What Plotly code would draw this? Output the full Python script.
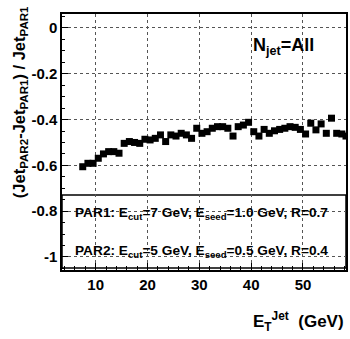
import plotly.graph_objects as go

et_jet = [7.5, 8.5, 9.5, 10.5, 11.5, 12.5, 13.5, 14.5, 15.5, 16.5, 17.5, 18.5, 19.5, 20.5,
          21.5, 22.5, 23.5, 24.5, 25.5, 26.5, 27.5, 28.5, 29.5, 30.5, 31.5, 32.5, 33.5,
          34.5, 35.5, 36.5, 37.5, 38.5, 39.5, 40.5, 41.5, 42.5, 43.5, 44.5, 45.5, 46.5,
          47.5, 48.5, 49.5, 50.5, 51.5, 52.5, 53.5, 54.5, 55.5, 56.5, 57.5, 58.3]
rel_diff = [-0.606, -0.591, -0.591, -0.569, -0.550, -0.540, -0.540, -0.547, -0.504, -0.496,
            -0.500, -0.504, -0.486, -0.489, -0.482, -0.467, -0.496, -0.467, -0.472, -0.460,
            -0.467, -0.482, -0.438, -0.460, -0.453, -0.438, -0.431, -0.431, -0.438, -0.472,
            -0.431, -0.424, -0.412, -0.453, -0.472, -0.443, -0.460, -0.449, -0.443, -0.438,
            -0.431, -0.434, -0.443, -0.463, -0.416, -0.445, -0.419, -0.460, -0.394, -0.460,
            -0.463, -0.472]

y_tickvals = [0, -0.2, -0.4, -0.6, -0.8, -1]
y_ticktext = ["0", "-0.2", "-0.4", "-0.6", "-0.8", "-1"]
x_tickvals = [10, 20, 30, 40, 50]
x_ticktext = ["10", "20", "30", "40", "50"]

FONT = "Liberation Sans"

fig = go.Figure()
fig.add_trace(go.Scatter(
    x=et_jet, y=rel_diff, mode="markers",
    marker=dict(symbol="square", size=7, color="black", line=dict(width=0)),
    cliponaxis=True, showlegend=False))

fig.update_layout(
    width=350, height=339,
    margin=dict(l=62, r=2, t=14, b=69),
    paper_bgcolor="white", plot_bgcolor="white",
    font=dict(family=FONT, size=14, color="black", weight="bold"),
    showlegend=False,
)

fig.update_xaxes(
    range=[3.5, 58.3], showline=True, linecolor="black", linewidth=1.5, mirror=True,
    tickvals=x_tickvals, ticktext=x_ticktext, ticks="inside", ticklen=7, tickcolor="black",
    tickfont=dict(family=FONT, size=15, weight="bold"),
    showgrid=True, gridcolor="#555555", griddash="dot", gridwidth=1,
    minor=dict(dtick=2, tick0=0, ticks="inside", ticklen=4, tickcolor="black", showgrid=False),
    zeroline=False,
)
fig.update_yaxes(
    range=[-1.057, 0.061], showline=True, linecolor="black", linewidth=1.5, mirror=True,
    tickvals=y_tickvals, ticktext=y_ticktext, ticks="inside", ticklen=6, tickcolor="black",
    tickfont=dict(family=FONT, size=15, weight="bold"),
    showgrid=True, gridcolor="#555555", griddash="dot", gridwidth=1,
    minor=dict(dtick=0.05, tick0=0, ticks="inside", ticklen=3, tickcolor="black", showgrid=False),
    zeroline=False,
)

# parameter box
fig.add_shape(type="rect", xref="paper", yref="y", x0=0, x1=1, y0=-1.048, y1=-0.729,
              line=dict(color="black", width=1.5), fillcolor="white", layer="between")

fig.add_annotation(xref="paper", yref="y", x=0.04, y=-0.81, xanchor="left", yanchor="middle",
                   text="PAR1: E<sub>cut</sub>=7 GeV, E<sub>seed</sub>=1.0 GeV, R=0.7",
                   showarrow=False, font=dict(family=FONT, size=13.7, weight="bold"))
fig.add_annotation(xref="paper", yref="y", x=0.04, y=-0.975, xanchor="left", yanchor="middle",
                   text="PAR2: E<sub>cut</sub>=5 GeV, E<sub>seed</sub>=0.5 GeV, R=0.4",
                   showarrow=False, font=dict(family=FONT, size=13.7, weight="bold"))

fig.add_annotation(xref="x", yref="y", x=40, y=-0.08, xanchor="left", yanchor="middle",
                   text="N<sub>jet</sub>=All", showarrow=False,
                   font=dict(family=FONT, size=18, weight="bold"))

# axis titles
fig.add_annotation(xref="paper", yref="paper", x=-0.15, y=1.04, xanchor="center", yanchor="top",
                   textangle=-90,
                   text="(Jet<sub>PAR2</sub>-Jet<sub>PAR1</sub>) / Jet<sub>PAR1</sub>",
                   showarrow=False, font=dict(family=FONT, size=16.5, weight="bold"))
fig.add_annotation(xref="paper", yref="paper", x=1.0, y=-0.145, xanchor="right", yanchor="top",
                   text="E<sub>T</sub><sup>Jet</sup>  (GeV)",
                   showarrow=False, font=dict(family=FONT, size=17, weight="bold"))

fig.write_html("out.html")
